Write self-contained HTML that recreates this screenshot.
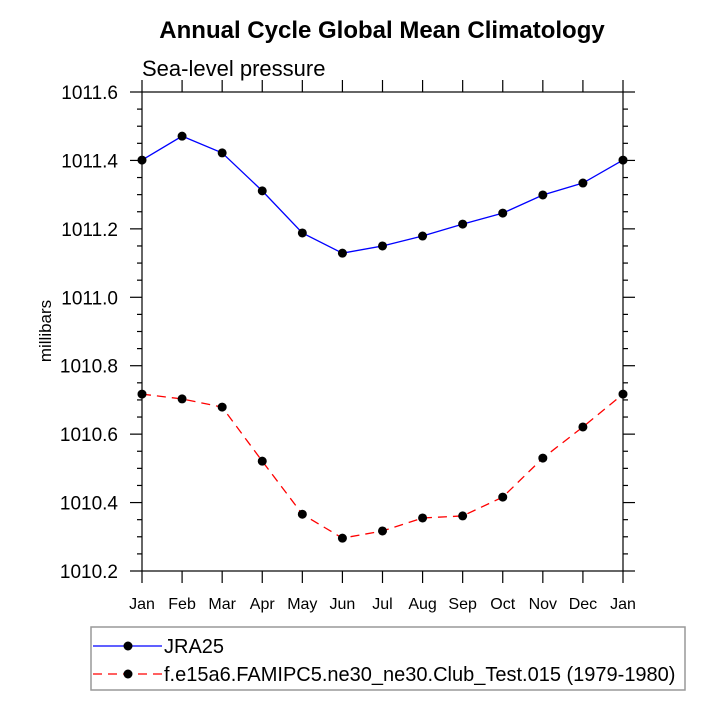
<!DOCTYPE html>
<html><head><meta charset="utf-8"><style>
body{margin:0;background:#fff}
svg text{font-family:"Liberation Sans",Arial,sans-serif;fill:#000}
</style></head><body>
<svg id="chart" width="710" height="710" xmlns="http://www.w3.org/2000/svg">
<text x="382" y="38" font-size="24" font-weight="bold" text-anchor="middle">Annual Cycle Global Mean Climatology</text>
<text x="142" y="76" font-size="22">Sea-level pressure</text>
<text transform="translate(51,331) rotate(-90)" font-size="17" text-anchor="middle">millibars</text>
<g id="axes"></g>
<g id="series"></g>
<rect x="91" y="627" width="594" height="63" fill="none" stroke="#999" stroke-width="1.5"/>
<line x1="93" y1="646" x2="162" y2="646" stroke="#0000ff" stroke-width="1.3"/>
<circle cx="128" cy="646" r="4.5" fill="#000"/>
<text x="164" y="653" font-size="20">JRA25</text>
<line x1="93" y1="674" x2="162" y2="674" stroke="#ff0000" stroke-width="1.3" stroke-dasharray="9,6"/>
<circle cx="128" cy="674" r="4.5" fill="#000"/>
<text x="164" y="681" font-size="20">f.e15a6.FAMIPC5.ne30_ne30.Club_Test.015 (1979-1980)</text>
</svg>
<script>
const months=["Jan","Feb","Mar","Apr","May","Jun","Jul","Aug","Sep","Oct","Nov","Dec","Jan"];
const jra25=[1011.401,1011.471,1011.422,1011.311,1011.188,1011.129,1011.150,1011.179,1011.214,1011.246,1011.299,1011.334,1011.401];
const model=[1010.717,1010.703,1010.679,1010.521,1010.366,1010.296,1010.317,1010.355,1010.361,1010.416,1010.530,1010.621,1010.717];
const yTicks=["1010.2","1010.4","1010.6","1010.8","1011.0","1011.2","1011.4","1011.6"];
const X0=142,X1=623,Y0=571,Y1=92,YMIN=1010.2,YMAX=1011.6;
const NS="http://www.w3.org/2000/svg";
function xs(i){return X0+(X1-X0)*i/(months.length-1);}
function ys(v){return Y0-(Y0-Y1)*(v-YMIN)/(YMAX-YMIN);}
function mk(tag,attrs,parent){const e=document.createElementNS(NS,tag);for(const k in attrs)e.setAttribute(k,attrs[k]);parent.appendChild(e);return e;}
const ax=document.getElementById('axes');
const frame=mk('rect',{x:X0,y:Y1,width:X1-X0,height:Y0-Y1,fill:'none',stroke:'#000','stroke-width':1.2},ax);


months.forEach((m,i)=>{
  const x=xs(i);
  const t1=mk('line',{x1:x,y1:Y0,x2:x,y2:Y0+12,stroke:'#000','stroke-width':1.2},ax);
  
  
  const t2=mk('line',{x1:x,y1:Y1,x2:x,y2:Y1-12,stroke:'#000','stroke-width':1.2},ax);
  
  
  const lb=mk('text',{x:x,y:609,'font-size':16,'text-anchor':'middle'},ax);
  lb.textContent=m;
  
  
});
for(let v=YMIN;v<=YMAX+1e-9;v+=0.05){
  const y=ys(v);const major=Math.abs(Math.round(v*5)-v*5)<1e-6;const L=major?12:5;
  const a=mk('line',{x1:X0-L,y1:y,x2:X0,y2:y,stroke:'#000','stroke-width':1.2},ax);
  
  
  const b=mk('line',{x1:X1,y1:y,x2:X1+L,y2:y,stroke:'#000','stroke-width':1.2},ax);
  
  
}
yTicks.forEach(s=>{
  const lb=mk('text',{x:118,y:ys(parseFloat(s))+7,'font-size':19,'text-anchor':'end'},ax);
  lb.textContent=s;
  
  
});
const sg=document.getElementById('series');
function draw(vals,color,dash,name){
  const p=mk('polyline',{points:vals.map((v,i)=>xs(i)+','+ys(v)).join(' '),fill:'none',stroke:color,'stroke-width':1.3,'stroke-dasharray':dash},sg);
  
  
  vals.forEach((v,i)=>{
    const c=mk('circle',{cx:xs(i),cy:ys(v),r:4.5,fill:'#000'},sg);
    
    
  });
}
draw(jra25,'#0000ff','none','jra25');
draw(model,'#ff0000','9,6','model');
</script>
</body></html>
